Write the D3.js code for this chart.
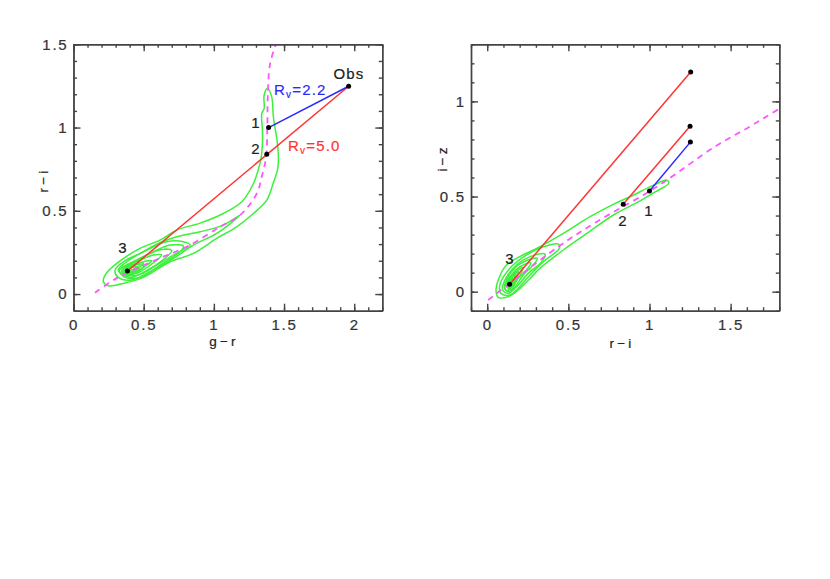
<!DOCTYPE html>
<html>
<head>
<meta charset="utf-8">
<script src="https://cdn.jsdelivr.net/npm/d3@7"></script>
<style>
  html, body { margin: 0; background: #fff; }
  svg { display: block; }
  text { font-family: "Liberation Sans", sans-serif; font-size: 15px; letter-spacing: 1.2px; fill: #222; stroke: #222; stroke-width: 0.2px; }
  .axis path, .axis line { stroke: #444; stroke-width: 1.4; }
  .axis text { fill: #333; stroke: #333; letter-spacing: 1.8px; }
  .title { font-size: 13.5px; letter-spacing: 3.2px; }
</style>
</head>
<body>
<svg id="chart" width="830" height="579"></svg>
<script>
// g-r vs r-i panel
const griMajorX = [0, 0.5, 1, 1.5, 2];
const griMajorY = [0, 0.5, 1, 1.5];
const griLocus = [[0.153,0.008],[0.317,0.1],[0.617,0.216],[0.816,0.288],[1.044,0.404],[1.187,0.474],[1.306,0.604],[1.341,0.704],[1.372,0.824],[1.381,1.004],[1.384,1.183],[1.4,1.381],[1.441,1.498]];
const griOuter = [[1.382,1.234],[1.358,1.194],[1.358,1.114],[1.341,1.084],[1.346,0.984],[1.346,0.904],[1.336,0.814],[1.315,0.744],[1.282,0.664],[1.199,0.554],[1.068,0.484],[0.902,0.426],[0.735,0.384],[0.616,0.324],[0.474,0.274],[0.308,0.184],[0.225,0.114],[0.213,0.074],[0.248,0.05],[0.355,0.064],[0.498,0.1],[0.688,0.194],[0.854,0.244],[1.02,0.334],[1.163,0.404],[1.282,0.484],[1.377,0.564],[1.422,0.664],[1.453,0.744],[1.46,0.804],[1.453,0.904],[1.424,1.064],[1.412,1.184]];
const griLevel2 = [[0.296,0.144],[0.319,0.1],[0.414,0.084],[0.522,0.124],[0.712,0.214],[0.854,0.294],[1.02,0.364],[1.187,0.474],[1.068,0.414],[0.902,0.374],[0.735,0.344],[0.616,0.308],[0.474,0.244],[0.355,0.194]];
const griLevel3 = [[0.319,0.144],[0.403,0.1],[0.569,0.164],[0.712,0.234],[0.831,0.294],[0.783,0.314],[0.664,0.314],[0.522,0.264],[0.379,0.194]];
const griLevel4 = [[0.327,0.144],[0.367,0.1],[0.474,0.1],[0.617,0.174],[0.759,0.254],[0.783,0.288],[0.688,0.294],[0.569,0.254],[0.426,0.194]];
const griLevel5 = [[0.343,0.144],[0.379,0.114],[0.474,0.118],[0.605,0.184],[0.7,0.26],[0.628,0.268],[0.522,0.234],[0.415,0.184]];
const griLevel6 = [[0.355,0.144],[0.391,0.12],[0.474,0.134],[0.569,0.188],[0.628,0.234],[0.569,0.234],[0.474,0.204],[0.398,0.174]];
const griLevel7 = [[0.362,0.144],[0.403,0.128],[0.474,0.148],[0.557,0.2],[0.498,0.194],[0.415,0.168]];
const griLevel8 = [[0.372,0.144],[0.415,0.134],[0.474,0.164],[0.498,0.184],[0.439,0.18],[0.391,0.164]];
const griLevel9 = [[0.379,0.144],[0.415,0.144],[0.45,0.164],[0.415,0.168]];
const griLevel10 = [[0.345,0.128],[0.39,0.112],[0.45,0.13],[0.5,0.165],[0.45,0.178],[0.385,0.16]];
const griLevel11 = [[0.36,0.135],[0.4,0.12],[0.445,0.14],[0.47,0.16],[0.425,0.163],[0.38,0.152]];
const griRed = [[[1.96,1.248],[0.384,0.138]]];
const griBlue = [[[1.96,1.248],[1.39,1.0]]];
const griDots = [[1.96,1.248],[1.39,1.0],[1.377,0.84],[0.384,0.138]];

// r-i vs i-z panel
const rizMajorX = [0, 0.5, 1, 1.5];
const rizMajorY = [0, 0.5, 1];
const rizLocus = [[0.006,-0.044],[0.437,0.236],[0.676,0.368],[0.962,0.508],[1.108,0.587],[1.396,0.758],[1.623,0.87],[1.726,0.923],[1.804,0.963]];
const rizOuter = [[0.068,-0.03],[0.054,0.009],[0.068,0.061],[0.119,0.14],[0.325,0.236],[0.469,0.306],[0.634,0.394],[0.789,0.464],[0.881,0.499],[1.025,0.56],[1.108,0.586],[1.118,0.569],[1.036,0.525],[0.933,0.473],[0.778,0.403],[0.614,0.306],[0.469,0.219],[0.325,0.123],[0.264,0.07],[0.191,0.009],[0.13,-0.026]];
const rizLevel2 = [[0.084,-0.009],[0.078,0.035],[0.14,0.123],[0.243,0.193],[0.346,0.236],[0.439,0.25],[0.445,0.228],[0.346,0.158],[0.264,0.088],[0.191,0.018],[0.14,-0.018]];
const rizLevel3 = [[0.095,0.009],[0.109,0.061],[0.181,0.14],[0.264,0.184],[0.356,0.198],[0.336,0.158],[0.253,0.096],[0.181,0.026],[0.13,-0.009]];
const rizLevel4 = [[0.109,0.018],[0.124,0.07],[0.191,0.14],[0.264,0.17],[0.309,0.175],[0.284,0.14],[0.222,0.088],[0.165,0.018],[0.13,0]];
const rizLevel5 = [[0.115,0.035],[0.14,0.079],[0.202,0.131],[0.268,0.152],[0.243,0.114],[0.185,0.065],[0.15,0.012]];
const rizLevel6 = [[0.124,0.035],[0.15,0.082],[0.222,0.128],[0.202,0.088],[0.161,0.035],[0.136,0.018]];
const rizLevel7 = [[0.13,0.035],[0.161,0.082],[0.191,0.105],[0.177,0.07],[0.15,0.03]];
const rizLevel8 = [[0.132,0.035],[0.156,0.065],[0.16,0.053],[0.144,0.026]];
const rizLevel9 = [[0.105,0.03],[0.125,0.055],[0.155,0.09],[0.175,0.09],[0.165,0.05],[0.14,0.012],[0.115,0.008]];
const rizLevel10 = [[0.118,0.028],[0.135,0.06],[0.155,0.07],[0.158,0.04],[0.14,0.018]];
const rizLevel11 = [[0.12,0.04],[0.14,0.075],[0.17,0.1],[0.165,0.07],[0.145,0.035],[0.13,0.022]];
const rizRed = [[[1.254,1.155],[0.138,0.039]], [[1.25,0.869],[0.838,0.46]]];
const rizBlue = [[[1.252,0.786],[1.0,0.529]]];
const rizDots = [[1.254,1.155],[1.25,0.869],[1.252,0.786],[1.0,0.529],[0.838,0.46],[0.138,0.039]];

const svg = d3.select("#chart");
const top_ = 44.3, bottom_ = 310.7;

function drawPanel(p) {
  const x = d3.scaleLinear().domain(p.xDomain).range(p.xRange);
  const y = d3.scaleLinear().domain(p.yDomain).range([bottom_, top_]);
  const g = svg.append("g");
  const minor = ([a, b]) => d3.range(Math.round(a * 10), Math.round(b * 10) + 1).map(v => v / 10);

  g.append("clipPath").attr("id", p.id)
    .append("rect")
    .attr("x", p.xRange[0]).attr("y", top_)
    .attr("width", p.xRange[1] - p.xRange[0]).attr("height", bottom_ - top_);
  const inner = g.append("g").attr("clip-path", `url(#${p.id})`);

  const contour = d3.line().x(d => x(d[0])).y(d => y(d[1])).curve(d3.curveCatmullRomClosed);
  inner.selectAll(".contour")
    .data(p.contours)
    .join("path")
    .attr("class", "contour")
    .attr("d", contour)
    .attr("fill", "none")
    .attr("stroke", "#3cf03c")
    .attr("stroke-width", 1.5);

  const line = d3.line().x(d => x(d[0])).y(d => y(d[1]));
  inner.append("path")
    .attr("d", line.curve(d3.curveCatmullRom)(p.locus))
    .attr("fill", "none")
    .attr("stroke", "#ff55ff")
    .attr("stroke-width", 1.8)
    .attr("stroke-dasharray", "6 5");
  line.curve(d3.curveLinear);

  inner.selectAll(".red").data(p.red).join("path")
    .attr("class", "red").attr("d", line)
    .attr("stroke", "#ff3333").attr("stroke-width", 1.5).attr("fill", "none");
  inner.selectAll(".blue").data(p.blue).join("path")
    .attr("class", "blue").attr("d", line)
    .attr("stroke", "#2a2aff").attr("stroke-width", 1.5).attr("fill", "none");
  inner.selectAll("circle").data(p.dots).join("circle")
    .attr("cx", d => x(d[0])).attr("cy", d => y(d[1]))
    .attr("r", 2.5).attr("fill", "#000");

  // frame, with ticks pointing inward on all four sides
  const fmt = d => d3.format("")(d);
  const addAxis = (axis, tr, major, size, labels, pad) => {
    g.append("g").attr("class", "axis").attr("transform", tr)
      .call(axis.tickValues(major).tickSize(-size).tickSizeOuter(0).tickPadding(pad)
        .tickFormat(labels ? fmt : ""))
      .call(s => s.selectAll("text").style("font-size", "15px"));
  };
  const bx = `translate(0,${bottom_})`, tx = `translate(0,${top_})`;
  const ly = `translate(${p.xRange[0]},0)`, ry = `translate(${p.xRange[1]},0)`;
  addAxis(d3.axisBottom(x), bx, minor(p.xDomain), 3.5, false, 9);
  addAxis(d3.axisTop(x), tx, minor(p.xDomain), 3.5, false, 9);
  addAxis(d3.axisLeft(y), ly, minor(p.yDomain), 3.5, false, 6);
  addAxis(d3.axisRight(y), ry, minor(p.yDomain), 3.5, false, 6);
  addAxis(d3.axisBottom(x), bx, p.majorX, 7, true, 9);
  addAxis(d3.axisTop(x), tx, p.majorX, 7, false, 9);
  addAxis(d3.axisLeft(y), ly, p.majorY, 7, true, 5);
  addAxis(d3.axisRight(y), ry, p.majorY, 7, false, 6);

  g.append("text").attr("class", "title").attr("x", p.xLabel[1]).attr("y", p.xLabel[2]).attr("text-anchor", "middle").text(p.xLabel[0]);
  g.append("text").attr("class", "title").attr("text-anchor", "middle")
    .attr("transform", `translate(${p.yLabel[1]},${p.yLabel[2]}) rotate(-90)`)
    .text(p.yLabel[0]);

  p.notes.forEach(n => {
    g.append("text").attr("x", n[1]).attr("y", n[2]).attr("text-anchor", "middle").text(n[0]);
  });
}

function rvLabel(text, xPos, yPos, color) {
  const t = svg.append("text").attr("x", xPos).attr("y", yPos).style("fill", color).style("stroke", color);
  t.append("tspan").text("R");
  t.append("tspan").attr("dy", 3).style("font-size", "10px").text("v");
  t.append("tspan").attr("dy", -3).text(text);
}

drawPanel({
  id: "clip-gri",
  xDomain: [0, 2.2], yDomain: [-0.1, 1.5],
  xRange: [73.5, 382.3],
  majorX: griMajorX, majorY: griMajorY,
  locus: griLocus,
  contours: [griOuter, griLevel2, griLevel3, griLevel4, griLevel5, griLevel6, griLevel7, griLevel8, griLevel9, griLevel10, griLevel11],
  red: griRed, blue: griBlue, dots: griDots,
  xLabel: ["g\u2212r", 224, 346], yLabel: ["r\u2212i", 48, 180],
  notes: [["Obs", 349, 79], ["1", 256, 128], ["2", 256, 154], ["3", 123, 253]]
});

drawPanel({
  id: "clip-riz",
  xDomain: [-0.1, 1.8], yDomain: [-0.1, 1.3],
  xRange: [471, 779.3],
  majorX: rizMajorX, majorY: rizMajorY,
  locus: rizLocus,
  contours: [rizOuter, rizLevel2, rizLevel3, rizLevel4, rizLevel5, rizLevel6, rizLevel7, rizLevel8, rizLevel9, rizLevel10, rizLevel11],
  red: rizRed, blue: rizBlue, dots: rizDots,
  xLabel: ["r\u2212i", 622, 348], yLabel: ["i\u2212z", 447, 158],
  notes: [["3", 510, 264], ["2", 623, 226], ["1", 649, 216]]
});

rvLabel("=2.2", 274, 95, "#2a2aff");
rvLabel("=5.0", 288, 151, "#ff3333");
</script>
</body>
</html>
